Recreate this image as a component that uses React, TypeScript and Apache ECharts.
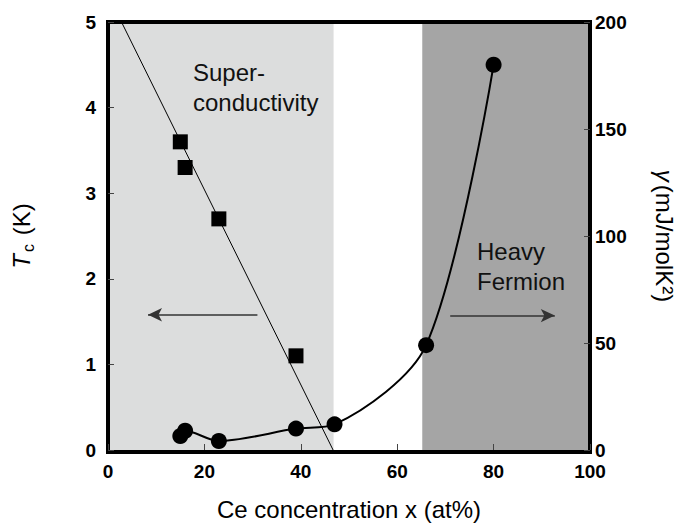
import React, { useEffect, useRef } from "react";
import * as echarts from "echarts";

// Data
const xRange = [0, 100];
const tcRange = [0, 5];
const gammaRange = [0, 200];
const tcSquares = [
  [15, 3.6],
  [16, 3.3],
  [23, 2.7],
  [39, 1.1],
];
const tcFitLine = [
  [2.8, 5],
  [46.7, 0],
];
const gammaPoints = [
  [15, 6.5],
  [16, 9],
  [23, 4.2],
  [39, 10],
  [47, 12],
  [66, 49],
  [80, 180],
];
const superRegion = [0, 46.8];
const heavyRegion = [65.2, 100];
const leftArrow = [
  [31, 1.58],
  [8.3, 1.58],
];
const rightArrow = [
  [71, 1.57],
  [92.7, 1.57],
];

const FONT = "'Liberation Sans', Arial, Helvetica, sans-serif";
const GRID = { left: 108, right: 96, top: 22, bottom: 74 };
const W = 686;
const H = 526;
const BW = 4; // frame thickness

export default function App() {
  const ref = useRef<HTMLDivElement>(null);
  useEffect(() => {
    if (!ref.current) return;
    const chart = echarts.init(ref.current, null, { renderer: "svg" });
    const tickLabel = () => ({ fontFamily: FONT, fontSize: 19, fontWeight: "bold", color: "#000" });
    const tick = () => ({ show: true, inside: true, length: 6, lineStyle: { color: "#444", width: 1 } });
    const pw = W - GRID.left - GRID.right;
    const ph = H - GRID.top - GRID.bottom;
    const frameRects = [
      { x: GRID.left - BW / 2, y: GRID.top - BW / 2, width: pw + BW, height: BW },
      { x: GRID.left - BW / 2, y: GRID.top + ph - BW / 2, width: pw + BW, height: BW },
      { x: GRID.left - BW / 2, y: GRID.top - BW / 2, width: BW, height: ph + BW },
      { x: GRID.left + pw - BW / 2, y: GRID.top - BW / 2, width: BW, height: ph + BW },
    ].map((shape) => ({ type: "rect", silent: true, shape, style: { fill: "#000" } }));
    const option: any = {
      animation: false,
      backgroundColor: "#fff",
      grid: GRID,
      xAxis: [
        {
          type: "value",
          position: "bottom",
          min: xRange[0],
          max: xRange[1],
          interval: 20,
          axisLine: { show: false, onZero: false },
          axisTick: tick(),
          splitLine: { show: false },
          axisLabel: { ...tickLabel(), margin: 12 },
          name: "Ce concentration x (at%)",
          nameLocation: "middle",
          nameGap: 47,
          nameTextStyle: { fontFamily: FONT, fontSize: 24, color: "#000" },
        },
      ],
      yAxis: [
        {
          type: "value",
          position: "left",
          min: tcRange[0],
          max: tcRange[1],
          interval: 1,
          axisLine: { show: false, onZero: false },
          axisTick: tick(),
          splitLine: { show: false },
          axisLabel: { ...tickLabel(), margin: 12 },
          name: "{t|T}{s|c}{n| (K)}",
          nameLocation: "middle",
          nameRotate: 90,
          nameGap: 72,
          nameTextStyle: {
            fontFamily: FONT,
            fontSize: 24,
            color: "#000",
            rich: {
              t: { fontFamily: FONT, fontSize: 24, fontStyle: "italic", color: "#000" },
              s: { fontFamily: FONT, fontSize: 16, color: "#000", padding: [14, 2, 0, 2] },
              n: { fontFamily: FONT, fontSize: 24, color: "#000" },
            },
          },
        },
        {
          type: "value",
          position: "right",
          min: gammaRange[0],
          max: gammaRange[1],
          interval: 50,
          axisLine: { show: false, onZero: false },
          axisTick: tick(),
          splitLine: { show: false },
          axisLabel: { ...tickLabel(), margin: 5 },
          name: "{g|γ}{n|(mJ/molK²)}",
          nameLocation: "middle",
          nameRotate: -90,
          nameGap: 62,
          nameTextStyle: {
            fontFamily: FONT,
            fontSize: 24,
            color: "#000",
            rich: {
              g: { fontFamily: FONT, fontSize: 24, fontStyle: "italic", color: "#000", padding: [0, 3, 0, 0] },
              n: { fontFamily: FONT, fontSize: 24, color: "#000" },
            },
          },
        },
      ],
      series: [
        {
          name: "regions",
          type: "line",
          xAxisIndex: 0,
          yAxisIndex: 0,
          data: [],
          z: -1,
          silent: true,
          markArea: {
            silent: true,
            z: -1,
            data: [
              [
                { xAxis: superRegion[0], itemStyle: { color: "#dcdddd" } },
                { xAxis: superRegion[1] },
              ],
              [
                { xAxis: heavyRegion[0], itemStyle: { color: "#a5a5a5" } },
                { xAxis: heavyRegion[1] },
              ],
            ],
          },
        },
        {
          name: "Tc fit",
          type: "line",
          xAxisIndex: 0,
          yAxisIndex: 0,
          data: tcFitLine,
          symbol: "none",
          lineStyle: { color: "#000", width: 1 },
          z: 3,
          markLine: {
            silent: true,
            symbol: ["none", "arrow"],
            symbolSize: [10, 14],
            label: { show: false },
            lineStyle: { color: "#333", width: 1.5, type: "solid" },
            data: [
              [{ coord: leftArrow[0] }, { coord: leftArrow[1] }],
              [{ coord: rightArrow[0] }, { coord: rightArrow[1] }],
            ],
          },
        },
        {
          name: "Tc",
          type: "scatter",
          xAxisIndex: 0,
          yAxisIndex: 0,
          data: tcSquares,
          symbol: "rect",
          symbolSize: 15,
          itemStyle: { color: "#000", opacity: 1 },
          z: 5,
        },
        {
          name: "gamma",
          type: "line",
          xAxisIndex: 0,
          yAxisIndex: 1,
          data: gammaPoints,
          smooth: 0.3,
          symbol: "circle",
          symbolSize: 16,
          showSymbol: true,
          itemStyle: { color: "#000", opacity: 1 },
          lineStyle: { color: "#000", width: 2 },
          z: 5,
        },
      ],
      graphic: [
        ...frameRects,
        { type: "text", x: 193, y: 72, style: { text: "Super-", font: `24px ${FONT}`, fill: "#111", verticalAlign: "middle" } },
        { type: "text", x: 193, y: 102, style: { text: "conductivity", font: `24px ${FONT}`, fill: "#111", verticalAlign: "middle" } },
        { type: "text", x: 477, y: 251, style: { text: "Heavy", font: `24px ${FONT}`, fill: "#111", verticalAlign: "middle" } },
        { type: "text", x: 477, y: 281, style: { text: "Fermion", font: `24px ${FONT}`, fill: "#111", verticalAlign: "middle" } },
      ],
    };
    chart.setOption(option);
    return () => chart.dispose();
  }, []);
  return <div ref={ref} style={{ width: W, height: H, position: "absolute", left: 0, top: 0 }} />;
}
